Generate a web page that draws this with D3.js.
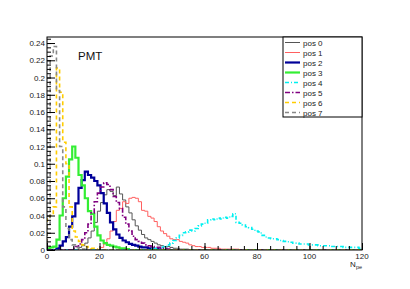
<!DOCTYPE html>
<html>
<head>
<meta charset="utf-8">
<script src="https://cdn.jsdelivr.net/npm/d3@7"></script>
<style>
	body { margin: 0; background: #fff; }
	svg { display: block; font-family: "Liberation Sans", Arial, sans-serif; }
</style>
</head>
<body>
<div id="chart"></div>
<script>
// histogram binning: 100 bins over [0, 120]
const nBins = 100
const xMin = 0
const xMax = 120
const yMax = 0.247

const seriesNames = ["pos 0", "pos 1", "pos 2", "pos 3", "pos 4", "pos 5", "pos 6", "pos 7"]

// bin contents, each list starts at the given bin index
const pos0Start = 10
const pos0 = [0.003, 0.005, 0.008, 0.014, 0.022, 0.032, 0.045, 0.055, 0.064, 0.07, 0.068, 0.063, 0.073, 0.065, 0.058, 0.05, 0.043, 0.035, 0.028, 0.023, 0.018, 0.014, 0.012, 0.01, 0.008, 0.006, 0.005, 0.004, 0.004, 0.003, 0.002, 0.002, 0.001, 0.001, 0.001]
const pos1Start = 17
const pos1 = [0.003, 0.007, 0.013, 0.022, 0.033, 0.046, 0.048, 0.056, 0.054, 0.06, 0.061, 0.06, 0.056, 0.046, 0.045, 0.039, 0.037, 0.033, 0.027, 0.022, 0.019, 0.016, 0.013, 0.012, 0.012, 0.01, 0.009, 0.008, 0.006, 0.005, 0.004, 0.004, 0.003, 0.003, 0.003, 0.002, 0.002, 0.002, 0.001, 0.001, 0.001, 0.001, 0.001, 0.001]
const pos2Start = 3
const pos2 = [0.002, 0.005, 0.01, 0.015, 0.027, 0.039, 0.054, 0.072, 0.081, 0.091, 0.087, 0.084, 0.08, 0.075, 0.066, 0.054, 0.043, 0.032, 0.024, 0.018, 0.014, 0.011, 0.009, 0.007, 0.006, 0.005, 0.004, 0.003, 0.003, 0.002, 0.002, 0.001, 0.001]
const pos3Start = 0
const pos3 = [0.002, 0.003, 0.004, 0.012, 0.04, 0.06, 0.085, 0.105, 0.12, 0.107, 0.087, 0.075, 0.06, 0.045, 0.042, 0.027, 0.017, 0.011, 0.008, 0.006, 0.005, 0.004, 0.003, 0.002, 0.002, 0.001]
const pos4Start = 33
const pos4 = [0.001, 0.002, 0.002, 0.003, 0.004, 0.006, 0.008, 0.011, 0.014, 0.017, 0.02, 0.021, 0.023, 0.022, 0.025, 0.028, 0.03, 0.031, 0.035, 0.036, 0.035, 0.037, 0.036, 0.038, 0.037, 0.039, 0.042, 0.032, 0.031, 0.029, 0.027, 0.026, 0.024, 0.022, 0.021, 0.017, 0.015, 0.014, 0.013, 0.013, 0.012, 0.011, 0.01, 0.0095, 0.009, 0.008, 0.008, 0.007, 0.007, 0.007, 0.006, 0.006, 0.006, 0.005, 0.005, 0.005, 0.005, 0.004, 0.004, 0.004, 0.004, 0.003, 0.003, 0.003, 0.003, 0.003, 0.002]
const pos5Start = 8
const pos5 = [0.002, 0.004, 0.007, 0.012, 0.02, 0.03, 0.043, 0.056, 0.066, 0.073, 0.078, 0.076, 0.07, 0.062, 0.055, 0.048, 0.038, 0.03, 0.022, 0.016, 0.012, 0.01, 0.008, 0.006, 0.005, 0.004, 0.003, 0.003, 0.002, 0.002, 0.001]
const pos6Start = 0
const pos6 = [0.038, 0.04, 0.05, 0.211, 0.183, 0.125, 0.1, 0.05, 0.022, 0.015, 0.01, 0.006, 0.004, 0.003, 0.002, 0.001]
const pos7Start = 0
const pos7 = [0.03, 0.225, 0.236, 0.185, 0.12, 0.05, 0.025, 0.012, 0.006, 0.003, 0.002, 0.001]

const xTicks = [0, 20, 40, 60, 80, 100, 120]
const yTicks = [0, 0.02, 0.04, 0.06, 0.08, 0.1, 0.12, 0.14, 0.16, 0.18, 0.2, 0.22, 0.24]

const width = 410
const height = 289
const margin = {top: 37, right: 48, bottom: 39, left: 47}
const plotW = width - margin.left - margin.right
const plotH = height - margin.top - margin.bottom

const styles = [
	{color: "#555555", width: 1, dash: null},
	{color: "#ff6060", width: 1, dash: null},
	{color: "#000099", width: 2.2, dash: null},
	{color: "#33ee33", width: 2.2, dash: null},
	{color: "#00f0f0", width: 1.6, dash: "4,2,1,2"},
	{color: "#800080", width: 1.6, dash: "5,2,1.5,2"},
	{color: "#ffcc00", width: 1.6, dash: "4,3"},
	{color: "#888888", width: 1.6, dash: "4,3"}
]

function fullBins(start, vals) {
	const out = new Array(nBins).fill(0)
	vals.forEach((v, i) => { out[start + i] = v })
	return out
}

const series = [
	fullBins(pos0Start, pos0), fullBins(pos1Start, pos1), fullBins(pos2Start, pos2), fullBins(pos3Start, pos3),
	fullBins(pos4Start, pos4), fullBins(pos5Start, pos5), fullBins(pos6Start, pos6), fullBins(pos7Start, pos7)
]

const svg = d3.select("#chart").append("svg")
	.attr("width", width)
	.attr("height", height)

const x = d3.scaleLinear().domain([xMin, xMax]).range([margin.left, margin.left + plotW])
const y = d3.scaleLinear().domain([0, yMax]).range([margin.top + plotH, margin.top])
const binW = (xMax - xMin) / nBins

svg.append("clipPath").attr("id", "frameClip")
	.append("rect")
	.attr("x", margin.left).attr("y", margin.top - 1)
	.attr("width", plotW).attr("height", plotH + 1)

// step outline, like ROOT's hist drawing
const line = d3.line()
	.x(d => x(d[0]))
	.y(d => y(d[1]))
	.curve(d3.curveStepAfter)

const histG = svg.append("g").attr("clip-path", "url(#frameClip)")
series.forEach((vals, k) => {
	const pts = [[xMin, 0]]
	vals.forEach((v, i) => pts.push([xMin + i * binW, v]))
	pts.push([xMax, vals[nBins - 1]])
	pts.push([xMax, 0])
	histG.append("path")
		.attr("d", line(pts))
		.attr("fill", "none")
		.attr("stroke", styles[k].color)
		.attr("stroke-width", styles[k].width)
		.attr("stroke-dasharray", styles[k].dash)
})

// frame
svg.append("rect")
	.attr("x", margin.left).attr("y", margin.top)
	.attr("width", plotW).attr("height", plotH)
	.attr("fill", "none")
	.attr("stroke", "#000")
	.attr("stroke-width", 1)

// x axis: ticks point up into the frame
const xMinor = d3.range(xMin, xMax + 0.001, 5)
svg.append("g")
	.attr("transform", `translate(0,${margin.top + plotH})`)
	.call(d3.axisTop(x).tickValues(xMinor).tickSize(4).tickFormat(""))
	.call(g => g.select(".domain").remove())
svg.append("g")
	.attr("transform", `translate(0,${margin.top + plotH})`)
	.call(d3.axisTop(x).tickValues(xTicks).tickSize(7).tickFormat(""))
	.call(g => g.select(".domain").remove())
svg.append("g")
	.selectAll("text")
	.data(xTicks)
	.enter()
	.append("text")
		.attr("x", d => x(d))
		.attr("y", margin.top + plotH + 9)
		.attr("text-anchor", "middle")
		.style("font-size", "8px")
		.attr("fill", "#222")
		.text(d => d)

// y axis: ticks point right into the frame
const yMinor = d3.range(0, yMax, 0.005)
svg.append("g")
	.attr("transform", `translate(${margin.left},0)`)
	.call(d3.axisRight(y).tickValues(yMinor).tickSize(4).tickFormat(""))
	.call(g => g.select(".domain").remove())
svg.append("g")
	.attr("transform", `translate(${margin.left},0)`)
	.call(d3.axisRight(y).tickValues(yTicks).tickSize(8).tickFormat(""))
	.call(g => g.select(".domain").remove())
svg.append("g")
	.selectAll("text")
	.data(yTicks)
	.enter()
	.append("text")
		.attr("x", margin.left - 2)
		.attr("y", d => y(d) + 3)
		.attr("text-anchor", "end")
		.style("font-size", "8px")
		.attr("fill", "#222")
		.text(d => String(+d.toFixed(2)))

// x title N_pe
const xt = svg.append("text")
	.attr("x", margin.left + plotW)
	.attr("y", 267)
	.attr("text-anchor", "end")
	.style("font-size", "8px")
	.attr("fill", "#222")
xt.append("tspan").text("N")
xt.append("tspan").attr("dy", 2).style("font-size", "5.5px").text("pe")

// PMT label
svg.append("text")
	.attr("x", 78)
	.attr("y", 60)
	.style("font-size", "11.5px")
	.attr("fill", "#111")
	.text("PMT")

// legend
const legX = 283, legY = 37, legW = 79, legH = 80
svg.append("rect")
	.attr("x", legX).attr("y", legY)
	.attr("width", legW).attr("height", legH)
	.attr("fill", "#fff")
	.attr("stroke", "#000")
	.attr("stroke-width", 1)

const leg = svg.append("g")
seriesNames.forEach((name, k) => {
	const cy = 42.5 + k * 10
	leg.append("line")
		.attr("x1", legX + 2).attr("x2", legX + 17)
		.attr("y1", cy).attr("y2", cy)
		.attr("stroke", styles[k].color)
		.attr("stroke-width", styles[k].width)
		.attr("stroke-dasharray", styles[k].dash)
	leg.append("text")
		.attr("x", legX + 20)
		.attr("y", cy + 3)
		.style("font-size", "8px")
		.attr("fill", "#222")
		.text(name)
})
</script>
</body>
</html>
